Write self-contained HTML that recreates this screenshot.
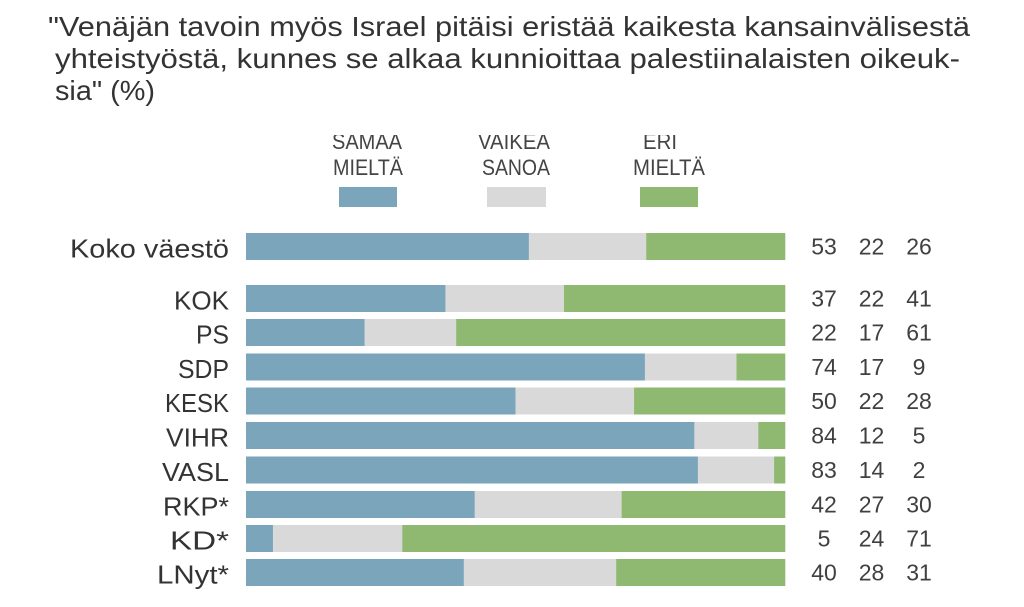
<!DOCTYPE html>
<html><head><meta charset="utf-8"><style>
html,body{margin:0;padding:0;background:#fff;}
svg{display:block;}
text{font-family:"Liberation Sans",sans-serif;}
</style></head><body>
<svg width="1024" height="607" viewBox="0 0 1024 607" xmlns="http://www.w3.org/2000/svg">
<rect width="1024" height="607" fill="#fff"/>
<g fill="#333" font-size="28">
<text x="48" y="36" textLength="922" lengthAdjust="spacingAndGlyphs">"Venäjän tavoin myös Israel pitäisi eristää kaikesta kansainvälisestä</text>
<text x="55" y="68" textLength="905" lengthAdjust="spacingAndGlyphs">yhteistyöstä, kunnes se alkaa kunnioittaa palestiinalaisten oikeuk-</text>
<text x="55" y="100" textLength="100" lengthAdjust="spacingAndGlyphs">sia" (%)</text>
</g>
<defs><clipPath id="lc"><rect x="0" y="135" width="1024" height="60"/></clipPath></defs>
<g fill="#444" font-size="22" clip-path="url(#lc)">
<text x="332" y="149" textLength="70" lengthAdjust="spacingAndGlyphs">SAMAA</text>
<text x="478" y="149" textLength="72" lengthAdjust="spacingAndGlyphs">VAIKEA</text>
<text x="643" y="149" textLength="34" lengthAdjust="spacingAndGlyphs">ERI</text>
</g>
<g fill="#444" font-size="22">
<text x="333" y="175" textLength="70" lengthAdjust="spacingAndGlyphs">MIELTÄ</text>
<text x="482" y="175" textLength="68" lengthAdjust="spacingAndGlyphs">SANOA</text>
<text x="633" y="175" textLength="72" lengthAdjust="spacingAndGlyphs">MIELTÄ</text>
</g>
<rect x="339" y="187" width="58" height="20" fill="#7aa5bb"/>
<rect x="487" y="187" width="59" height="20" fill="#d9d9d9"/>
<rect x="640" y="187" width="58" height="20" fill="#8fb970"/>

<g id="bars"></g>
<g id="labels" fill="#333" font-size="26" text-anchor="end"></g>
<g id="nums" fill="#404040" font-size="23" text-anchor="middle"></g>
</svg>
<script>
var rows=[
["Koko väestö",233,53,22,26,159],
["KOK",285,37,22,41,55],
["PS",319,22,17,61,33],
["SDP",353.5,74,17,9,51],
["KESK",387.5,50,22,28,64],
["VIHR",422,84,12,5,63],
["VASL",456.5,83,14,2,67],
["RKP*",491,42,27,30,66],
["KD*",525,5,24,71,59],
["LNyt*",559,40,28,31,72]
];
var NS="http://www.w3.org/2000/svg";
var bars=document.getElementById("bars"),labels=document.getElementById("labels"),nums=document.getElementById("nums");
var x0=246,W=539,H=27,cols=["#7aa5bb","#d9d9d9","#8fb970"];
rows.forEach(function(r){
 var s=r[2]+r[3]+r[4],x=x0;
 for(var i=0;i<3;i++){
  var w=r[2+i]/s*W;
  var re=document.createElementNS(NS,"rect");
  re.setAttribute("x",x);re.setAttribute("y",r[1]);re.setAttribute("width",w+0.3);re.setAttribute("height",H);re.setAttribute("fill",cols[i]);
  bars.appendChild(re);x+=w;
 }
 var t=document.createElementNS(NS,"text");
 t.setAttribute("x",229);t.setAttribute("y",r[1]+24.5);
 t.setAttribute("textLength",r[5]);t.setAttribute("lengthAdjust","spacingAndGlyphs");
 t.textContent=r[0];labels.appendChild(t);
 var cx=[824,871.5,919];
 for(var j=0;j<3;j++){
  var n=document.createElementNS(NS,"text");
  n.setAttribute("x",cx[j]);n.setAttribute("y",r[1]+21.5);
  n.textContent=r[2+j];nums.appendChild(n);
 }
});
</script>
</body></html>
